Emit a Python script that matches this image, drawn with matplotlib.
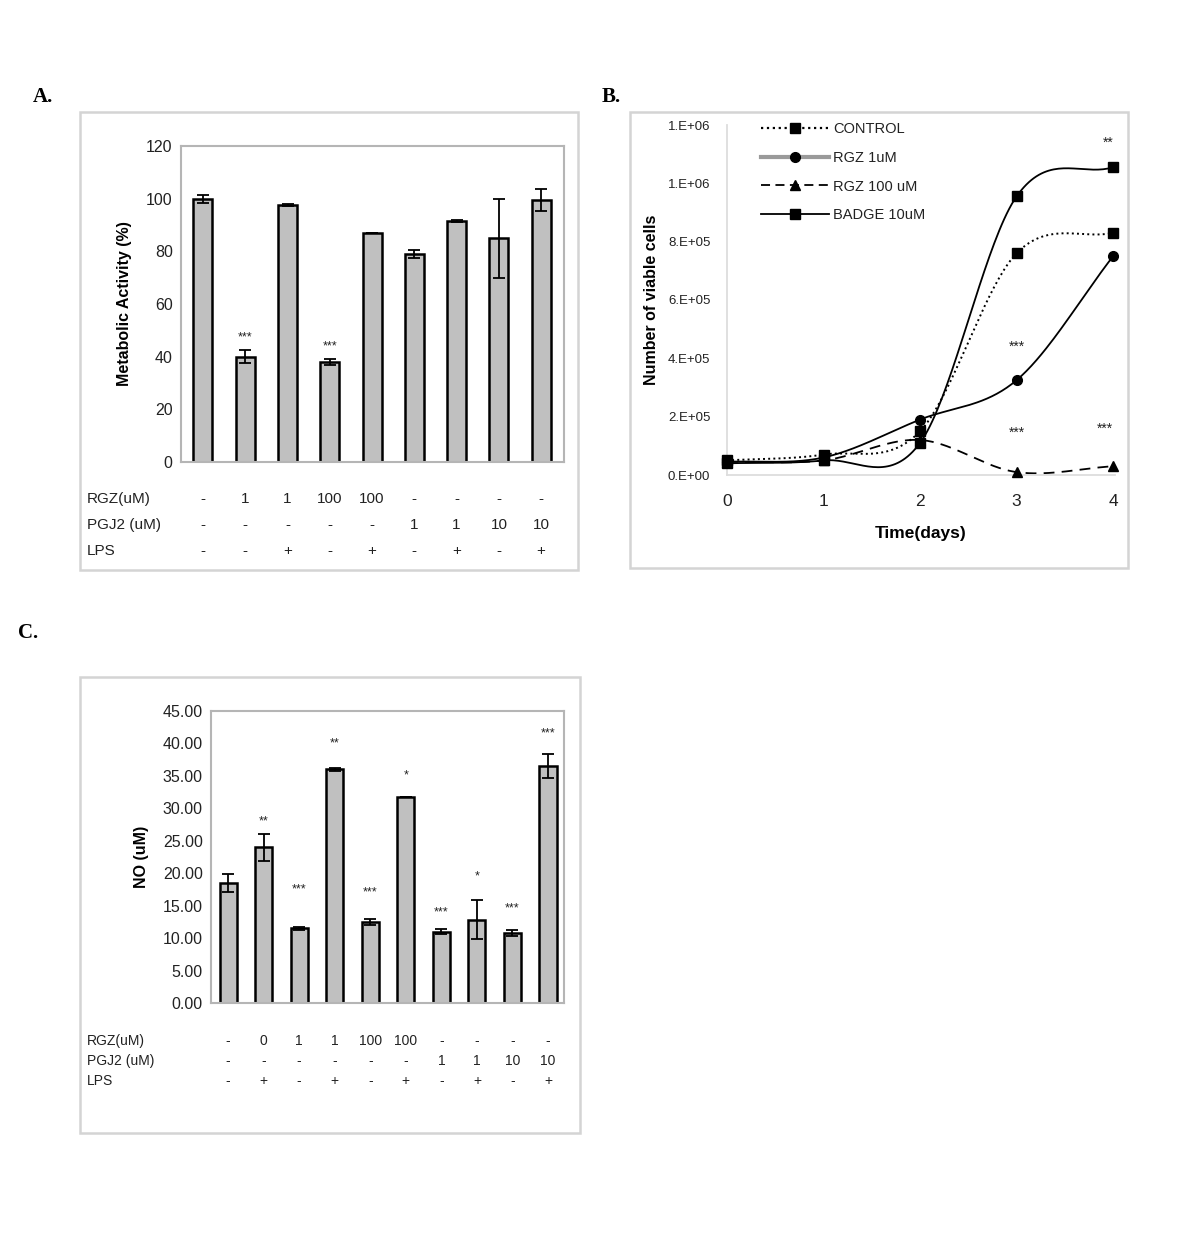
import numpy as np
import matplotlib
matplotlib.use("Agg")
import matplotlib.pyplot as plt
from matplotlib.lines import Line2D
from matplotlib.patches import Rectangle
import matplotlib.transforms as mtrans

plt.rcParams['font.family'] = ['Liberation Sans', 'DejaVu Sans']

# ---------------- data ----------------
# Panel A
a_values = [100, 40, 97.5, 38, 87, 79, 91.5, 85, 99.5]
a_errors = [1.5, 2.5, 0.3, 1.2, 0.0, 1.5, 0.3, 15, 4]
a_stars = ["", "***", "", "***", "", "", "", "", ""]
a_rgz = ["-", "1", "1", "100", "100", "-", "-", "-", "-"]
a_pgj2 = ["-", "-", "-", "-", "-", "1", "1", "10", "10"]
a_lps = ["-", "-", "+", "-", "+", "-", "+", "-", "+"]

# Panel B
b_days = [0, 1, 2, 3, 4]
b_control = [0.05e6, 0.07e6, 0.15e6, 0.76e6, 0.83e6]
b_rgz1 = [0.045e6, 0.06e6, 0.19e6, 0.325e6, 0.75e6]
b_rgz100 = [0.045e6, 0.05e6, 0.12e6, 0.01e6, 0.03e6]
b_badge = [0.04e6, 0.05e6, 0.11e6, 0.955e6, 1.055e6]
b_yticklabels = ["0.E+00", "2.E+05", "4.E+05", "6.E+05", "8.E+05", "1.E+06", "1.E+06"]

# Panel C
c_values = [18.5, 24, 11.5, 36, 12.5, 31.8, 11, 12.8, 10.8, 36.5]
c_errors = [1.4, 2.1, 0.2, 0.2, 0.5, 0.0, 0.4, 3.0, 0.5, 1.8]
c_stars = ["", "**", "***", "**", "***", "*", "***", "*", "***", "***"]
c_star_y = [0, 28, 17.5, 40, 17, 35, 14, 19.5, 14.5, 41.5]
c_rgz = ["-", "0", "1", "1", "100", "100", "-", "-", "-", "-"]
c_pgj2 = ["-", "-", "-", "-", "-", "-", "1", "1", "10", "10"]
c_lps = ["-", "+", "-", "+", "-", "+", "-", "+", "-", "+"]

# ---------------- layout ----------------
W, H = 1200, 1247
fig = plt.figure(figsize=(W / 100, H / 100), dpi=100)


def rect(x0, y0, x1, y1):
    return [x0 / W, 1 - y1 / H, (x1 - x0) / W, (y1 - y0) / H]


def frame(x0, y0, x1, y1):
    fig.patches.append(Rectangle((x0 / W, 1 - y1 / H), (x1 - x0) / W, (y1 - y0) / H,
                                 transform=fig.transFigure, fill=False,
                                 edgecolor='#d4d4d4', lw=1.8))


def fy(y):
    return 1 - y / H


TXT = '#222222'
GRAYAX = '#b5b5b5'

# panel letters
for lbl, x, y in [("A.", 33, 97), ("B.", 602, 97), ("C.", 18, 633)]:
    fig.text(x / W, fy(y), lbl, fontsize=15, fontweight='bold',
             family='Liberation Serif', va='center', ha='left')

frame(80, 112, 578, 570)
frame(630, 112, 1128, 568)
frame(80, 677, 580, 1133)


def bar_panel(ax, values, errors, width, cap):
    x = np.arange(len(values))
    ax.bar(x, values, width=width, color='#c0c0c0', edgecolor='black', lw=1.8, zorder=2)
    ax.errorbar(x, values, yerr=errors, fmt='none', ecolor='black', elinewidth=1.3,
                capsize=cap, capthick=1.3, zorder=3)
    for s in ax.spines.values():
        s.set_color(GRAYAX)
        s.set_linewidth(1.5)
    ax.set_xticks([])
    ax.tick_params(axis='y', length=0, labelsize=11.5, labelcolor=TXT, pad=6)
    return x


def table_rows(ax, x, rows, ys, labels, fs):
    tr = mtrans.blended_transform_factory(ax.transData, fig.transFigure)
    for row, y, lab in zip(rows, ys, labels):
        fig.text(87 / W, fy(y), lab, fontsize=fs, color=TXT, va='center', ha='left')
        for xi, t in zip(x, row):
            ax.text(xi, fy(y), t, transform=tr, fontsize=fs, color=TXT,
                    va='center', ha='center', clip_on=False)


# ---------------- Panel A ----------------
axA = fig.add_axes(rect(181, 146, 564, 462))
xA = bar_panel(axA, a_values, a_errors, 0.45, 4)
axA.set_xlim(-0.52, 8.54)
axA.set_ylim(0, 120)
axA.set_yticks(range(0, 121, 20))
axA.set_ylabel("Metabolic Activity (%)", fontsize=11.5, fontweight='bold', labelpad=10)
for xi, v, e, s in zip(xA, a_values, a_errors, a_stars):
    if s:
        axA.text(xi, v + e + 2.5, s, ha='center', va='bottom', fontsize=9, color=TXT)
table_rows(axA, xA, [a_rgz, a_pgj2, a_lps], [499, 525, 551],
           ["RGZ(uM)", "PGJ2 (uM)", "LPS"], 11)

# ---------------- Panel B ----------------
axB = fig.add_axes(rect(727, 125, 1115, 475))


def smooth(xs, ys, n=40):
    xs = np.asarray(xs, float)
    ys = np.asarray(ys, float)
    px = np.concatenate([[2 * xs[0] - xs[1]], xs, [2 * xs[-1] - xs[-2]]])
    py = np.concatenate([[2 * ys[0] - ys[1]], ys, [2 * ys[-1] - ys[-2]]])
    outx, outy = [], []
    for i in range(1, len(px) - 2):
        t = np.linspace(0, 1, n)
        for arr, out in ((px, outx), (py, outy)):
            p0, p1, p2, p3 = arr[i - 1], arr[i], arr[i + 1], arr[i + 2]
            out.extend(0.5 * ((2 * p1) + (-p0 + p2) * t +
                              (2 * p0 - 5 * p1 + 4 * p2 - p3) * t ** 2 +
                              (-p0 + 3 * p1 - 3 * p2 + p3) * t ** 3))
    return np.array(outx), np.array(outy)


series = [
    ("CONTROL", b_control, ':', 's', 'black', 1.4),
    ("RGZ 1uM", b_rgz1, '-', 'o', 'black', 1.3),
    ("RGZ 100 uM", b_rgz100, (0, (6, 4)), '^', 'black', 1.3),
    ("BADGE 10uM", b_badge, '-', 's', 'black', 1.3),
]
for name, ys, ls, mk, col, lw in series:
    sx, sy = smooth(b_days, ys)
    axB.plot(sx, sy, ls=ls, color=col, lw=lw, zorder=2, clip_on=False)
    axB.plot(b_days, ys, ls='none', marker=mk, color='black', ms=7, zorder=3,
             clip_on=False)

handles = [
    Line2D([], [], ls=':', color='black', lw=1.6, marker='s', ms=7),
    Line2D([], [], ls='-', color='#9a9a9a', lw=3, marker='o', ms=7, mfc='black', mec='black'),
    Line2D([], [], ls=(0, (5, 3)), color='black', lw=1.3, marker='^', ms=7),
    Line2D([], [], ls='-', color='black', lw=1.3, marker='s', ms=7),
]
axB.legend(handles, [s[0] for s in series], loc='upper left', bbox_to_anchor=(0.055, 1.045),
           frameon=False, fontsize=10.5, handlelength=4.6, labelspacing=1.0,
           handletextpad=0.3, labelcolor=TXT)

axB.set_xlim(0, 4.02)
axB.set_ylim(0, 1.2e6)
axB.set_yticks(np.arange(0, 1.21e6, 0.2e6))
axB.set_yticklabels(b_yticklabels)
axB.set_xticks(b_days)
axB.spines['top'].set_visible(False)
axB.spines['right'].set_visible(False)
axB.spines['left'].set_color('#dddddd')
axB.spines['bottom'].set_color('#dddddd')
axB.spines['left'].set_linewidth(1.3)
axB.spines['bottom'].set_linewidth(1.3)
axB.tick_params(axis='y', length=0, labelsize=9.5, labelcolor=TXT, pad=12)
axB.tick_params(axis='x', length=0, labelsize=12.5, labelcolor=TXT, pad=14)
axB.set_xlabel("Time(days)", fontsize=12.5, fontweight='bold', labelpad=12)
axB.set_ylabel("Number of viable cells", fontsize=11.5, fontweight='bold', labelpad=6)
for x, y, s in [(3.95, 1.14e6, "**"), (3.0, 0.44e6, "***"),
                (3.0, 0.145e6, "***"), (3.92, 0.16e6, "***")]:
    axB.text(x, y, s, ha='center', va='center', fontsize=10, color=TXT)

# ---------------- Panel C ----------------
axC = fig.add_axes(rect(211, 711, 564, 1003))
xC = bar_panel(axC, c_values, c_errors, 0.48, 4)
axC.set_xlim(-0.48, 9.45)
axC.set_ylim(0, 45)
axC.set_yticks(np.arange(0, 45.1, 5))
axC.set_yticklabels([f"{v:.2f}" for v in np.arange(0, 45.1, 5)])
axC.set_ylabel("NO (uM)", fontsize=11.5, fontweight='bold', labelpad=10)
for xi, y, s in zip(xC, c_star_y, c_stars):
    if s:
        axC.text(xi, y, s, ha='center', va='center', fontsize=9, color=TXT)
table_rows(axC, xC, [c_rgz, c_pgj2, c_lps], [1041, 1061, 1081],
           ["RGZ(uM)", "PGJ2 (uM)", "LPS"], 10)

fig.savefig("out.png", dpi=100)
